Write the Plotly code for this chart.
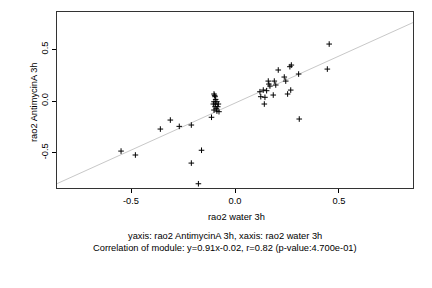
import plotly.graph_objects as go

x_water = [-0.548, -0.479, -0.359, -0.311, -0.268, -0.210, -0.210, -0.161, -0.176, -0.113,
           -0.101, -0.096, -0.093, -0.101, -0.087, -0.104, -0.093, -0.080, -0.096, -0.083,
           -0.101, -0.087, -0.077, -0.098, -0.090,
           0.453, 0.444, 0.306, 0.309, 0.271, 0.264, 0.208, 0.237, 0.244, 0.268,
           0.253, 0.184, 0.189, 0.196, 0.160, 0.163, 0.168, 0.120, 0.136, 0.152,
           0.124, 0.144, 0.141]
y_antimycin = [-0.484, -0.522, -0.271, -0.184, -0.245, -0.232, -0.600, -0.476, -0.800, -0.157,
               0.068, 0.042, 0.016, -0.007, -0.007, -0.029, -0.029, -0.029, -0.055, -0.055,
               -0.087, -0.097, -0.103, 0.055, -0.075,
               0.551, 0.309, 0.261, -0.174, 0.348, 0.332, 0.300, 0.232, 0.193, 0.106,
               0.068, 0.058, 0.193, 0.155, 0.193, 0.164, 0.145, 0.090, 0.106, 0.100,
               0.042, 0.036, -0.029]

slope = 0.91
intercept = -0.02
x_range = [-0.856, 0.856]
y_range = [-0.841, 0.861]
tick_vals = [-0.5, 0.0, 0.5]
tick_text = ["-0.5", "0.0", "0.5"]

x_label = "rao2 water 3h"
y_label = "rao2 AntimycinA 3h"
sub1 = "yaxis: rao2 AntimycinA 3h, xaxis: rao2 water 3h"
sub2 = "Correlation of module: y=0.91x-0.02, r=0.82 (p-value:4.700e-01)"

FONT = "Liberation Sans, Arial, sans-serif"
FS = 9.3

fig = go.Figure()
fig.add_trace(go.Scatter(
    x=x_range, y=[slope * v + intercept for v in x_range],
    mode="lines", line=dict(color="#c8c8c8", width=1), hoverinfo="skip"))
fig.add_trace(go.Scatter(
    x=x_water, y=y_antimycin, mode="markers",
    marker=dict(symbol="cross-thin", size=4, line=dict(color="black", width=1), color="black")))

axis_common = dict(
    tickvals=tick_vals, ticktext=tick_text, ticks="outside", ticklen=4, tickwidth=1,
    tickcolor="black", showgrid=False, zeroline=False, showline=True, linecolor="#333333",
    linewidth=1, mirror=True, tickfont=dict(family=FONT, size=FS, color="black"))

fig.update_layout(
    width=432, height=288, autosize=False,
    margin=dict(l=57, r=19, t=12, b=100),
    paper_bgcolor="white", plot_bgcolor="white",
    showlegend=False,
    xaxis=dict(range=x_range, **axis_common),
    yaxis=dict(range=y_range, tickangle=-90, **axis_common),
    annotations=[
        dict(text=x_label, xref="paper", yref="paper", x=0.5056, y=-0.163,
             xanchor="center", yanchor="middle", showarrow=False,
             font=dict(family=FONT, size=FS, color="black")),
        dict(text=sub1, xref="paper", yref="paper", x=0.472, y=-0.271,
             xanchor="center", yanchor="middle", showarrow=False,
             font=dict(family=FONT, size=FS, color="black")),
        dict(text=sub2, xref="paper", yref="paper", x=0.472, y=-0.343,
             xanchor="center", yanchor="middle", showarrow=False,
             font=dict(family=FONT, size=FS, color="black")),
        dict(text=y_label, xref="paper", yref="paper", x=-0.0666, y=0.49,
             xanchor="center", yanchor="middle", showarrow=False, textangle=-90,
             font=dict(family=FONT, size=FS, color="black")),
    ],
)

fig.write_html("out.html")
